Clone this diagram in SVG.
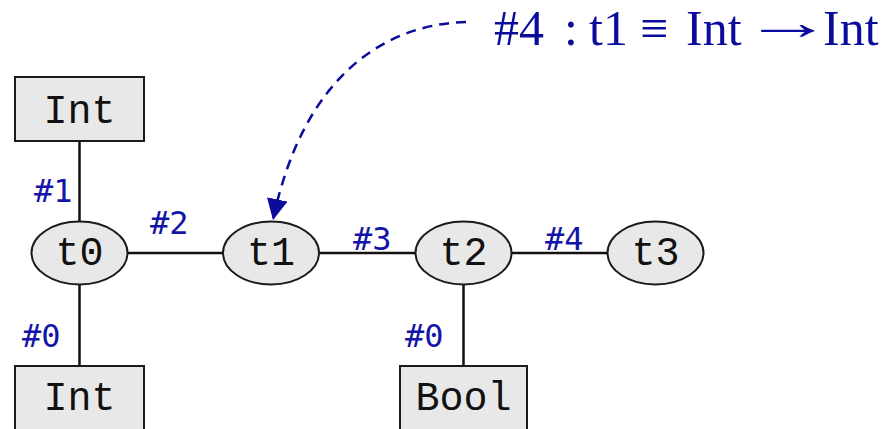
<svg xmlns="http://www.w3.org/2000/svg" width="893" height="429" viewBox="0 0 893 429">
  <style>
    .box { fill: #e8e8e8; stroke: #1a1a1a; stroke-width: 2; }
    .node { fill: #e8e8e8; stroke: #1a1a1a; stroke-width: 2; }
    .lbl { font-family: "Liberation Mono", "Courier New", monospace; font-size: 40px; fill: #111; text-anchor: middle; }
    .edge { stroke: #111; stroke-width: 2.5; fill: none; }
    .elbl { font-family: "DejaVu Sans Mono", monospace; font-size: 32px; fill: #1414a8; }
    .note { font-family: "Liberation Serif", "Times New Roman", serif; font-size: 50px; fill: #0c0c9c; }
  </style>
  <defs>
    <marker id="head" markerWidth="22" markerHeight="22" refX="21" refY="10.5" orient="auto" markerUnits="userSpaceOnUse">
      <path d="M0,0 L21,10.5 L0,21 Z" fill="#0c0c9c"/>
    </marker>
  </defs>

  <g id="connectors">
    <line class="edge" x1="79.5" y1="141" x2="79.5" y2="222"/>
    <line class="edge" x1="79.5" y1="285" x2="79.5" y2="366"/>
    <line class="edge" x1="128" y1="253" x2="223" y2="253"/>
    <line class="edge" x1="319" y1="253" x2="416" y2="253"/>
    <line class="edge" x1="512" y1="253" x2="607" y2="253"/>
    <line class="edge" x1="463.5" y1="285" x2="463.5" y2="366"/>
    <text class="elbl" x="34" y="202">#1</text>
    <text class="elbl" x="150" y="234">#2</text>
    <text class="elbl" x="353" y="250">#3</text>
    <text class="elbl" x="545" y="250">#4</text>
    <text class="elbl" x="22" y="347">#0</text>
    <text class="elbl" x="405" y="347">#0</text>
    <path d="M466,22 C385,24 303,76 273,220" fill="none" stroke="#0c0c9c" stroke-width="2.5" stroke-dasharray="10,7" marker-end="url(#head)"/>
  </g>

  <g id="int-top">
    <rect class="box" x="15" y="77" width="129" height="64"/>
    <text class="lbl" x="79.5" y="123">Int</text>
  </g>
  <g id="int-bottom">
    <rect class="box" x="15" y="366" width="129" height="70"/>
    <text class="lbl" x="79.5" y="410">Int</text>
  </g>
  <g id="bool">
    <rect class="box" x="400" y="366" width="127" height="70"/>
    <text class="lbl" x="463.5" y="410">Bool</text>
  </g>
  <g id="t0">
    <ellipse class="node" cx="79.5" cy="253" rx="48" ry="31.5"/>
    <text class="lbl" x="79.5" y="265">t0</text>
  </g>
  <g id="t1">
    <ellipse class="node" cx="271" cy="253" rx="48" ry="31.5"/>
    <text class="lbl" x="271" y="265">t1</text>
  </g>
  <g id="t2">
    <ellipse class="node" cx="463.5" cy="253" rx="48" ry="31.5"/>
    <text class="lbl" x="463.5" y="265">t2</text>
  </g>
  <g id="t3">
    <ellipse class="node" cx="655.5" cy="253" rx="48" ry="31.5"/>
    <text class="lbl" x="655.5" y="265">t3</text>
  </g>

  <!-- annotation: type of edge #4 at t1 -->
  <g id="note">
    <text class="note" y="45"><tspan x="494">#4</tspan><tspan x="564">:</tspan><tspan x="589">t1</tspan><tspan x="640">≡</tspan><tspan x="686">Int</tspan><tspan x="823">Int</tspan></text>
    <text class="note" transform="translate(743,39) scale(1.8,1)">→</text>
  </g>
</svg>
